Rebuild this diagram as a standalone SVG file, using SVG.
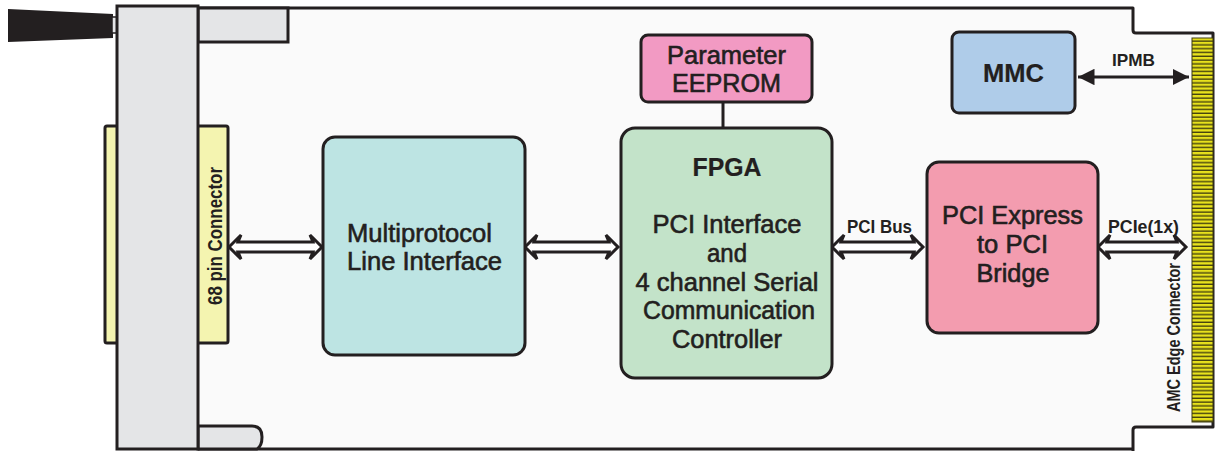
<svg xmlns="http://www.w3.org/2000/svg" width="1215" height="451" viewBox="0 0 1215 451">
<style>
.ln{stroke:#231f20;stroke-width:3;stroke-linejoin:round;fill:none}
.box{stroke:#231f20;stroke-width:3}
.t{font-family:"Liberation Sans",Arial,sans-serif;font-size:25px;fill:#231f20;stroke:#231f20;stroke-width:0.6;text-anchor:middle}
.b{font-weight:bold;stroke-width:0.2}
.lab{font-family:"Liberation Sans",Arial,sans-serif;font-size:16px;font-weight:bold;fill:#231f20;text-anchor:middle}
.harrow{fill:#ffffff;stroke:#231f20;stroke-width:3;stroke-linejoin:miter}
</style>
<defs>
<pattern id="pins" x="0" y="38" width="21" height="3.8" patternUnits="userSpaceOnUse">
<rect width="21" height="3.8" fill="#e8e21c"/>
<rect y="2.4" width="21" height="1.4" fill="#45420f"/>
</pattern>
<marker id="ah" viewBox="0 0 10 10" refX="10" refY="5" markerWidth="5.5" markerHeight="5.5" orient="auto-start-reverse">
<path d="M0,0 L10,5 L0,10 Z" fill="#231f20"/>
</marker>
</defs>
<rect width="1215" height="451" fill="#ffffff"/>

<g id="board">
<path d="M198,8 H1133 V33 H1213 V427 H1133 V449 H198 Z" fill="#fafafa"/>
<path d="M198,8 H1133 V30 Q1133,33 1136,33 H1213 V427 H1136 Q1133,427 1133,430 V451 M1133,449 H198" class="ln"/>
</g>

<g id="handle">
<polygon points="8,9 113,14 113,38 8,42" fill="#231f20"/>
<rect x="112" y="17" width="6" height="16" fill="#e4e5e7" stroke="#231f20" stroke-width="1.5"/>
</g>

<g id="connector68">
<rect x="105" y="126" width="123" height="217" rx="2" fill="#f4f4b0" class="box"/>
</g>

<g id="panel">
<rect x="198" y="8" width="90" height="34" fill="#e4e5e7" class="box"/>
<path d="M198,426 H252 Q262,426 262,437 Q262,446 257,449 H198 Z" fill="#e4e5e7" class="box"/>
<rect x="117" y="6" width="81" height="443" fill="#e4e5e7" class="box"/>
</g>
<text class="lab" transform="translate(222,236) rotate(-90)" textLength="138" lengthAdjust="spacingAndGlyphs" style="font-size:20px">68 pin Connector</text>

<g id="edge-connector">
<rect x="1192" y="38" width="21" height="384" fill="url(#pins)" stroke="#3c3a10" stroke-width="1"/>
<text class="lab" transform="translate(1180,337.5) rotate(-90)" textLength="149" lengthAdjust="spacingAndGlyphs" style="font-size:18px">AMC Edge Connector</text>
</g>

<g id="connectors">
<path class="harrow" d="M229,247 L241,235 L238,242 L313,242 L310,235 L322,247 L310,259 L313,252 L238,252 L241,259 Z"/>
<path class="harrow" d="M525,247 L537,235 L534,242 L609,242 L606,235 L618,247 L606,259 L609,252 L534,252 L537,259 Z"/>
<path class="harrow" d="M832,247 L844,235 L841,242 L914,242 L911,235 L923,247 L911,259 L914,252 L841,252 L844,259 Z"/>
<path class="harrow" d="M1098,247 L1110,235 L1107,242 L1177,242 L1174,235 L1186,247 L1174,259 L1177,252 L1107,252 L1110,259 Z"/>
<line x1="1078" y1="77" x2="1189" y2="77" stroke="#231f20" stroke-width="3" marker-start="url(#ah)" marker-end="url(#ah)"/>
<line x1="723" y1="102" x2="723" y2="128" stroke="#231f20" stroke-width="3"/>
<text class="lab" x="879.5" y="233" textLength="65" lengthAdjust="spacingAndGlyphs" style="font-size:18px">PCI Bus</text>
<text class="lab" x="1143.5" y="233" textLength="71" lengthAdjust="spacingAndGlyphs" style="font-size:18px">PCIe(1x)</text>
<text class="lab" x="1133.5" y="66" textLength="43" lengthAdjust="spacingAndGlyphs" style="font-size:17px">IPMB</text>
</g>

<g id="multiprotocol">
<rect x="323" y="137" width="202" height="218" rx="12" fill="#bde4e3" class="box"/>
<text class="t" x="347" y="242" style="text-anchor:start" textLength="145" lengthAdjust="spacingAndGlyphs">Multiprotocol</text>
<text class="t" x="347" y="270" style="text-anchor:start" textLength="155" lengthAdjust="spacingAndGlyphs">Line Interface</text>
</g>

<g id="eeprom">
<rect x="641" y="35" width="171" height="67" rx="7" fill="#f29ac3" class="box"/>
<text class="t" x="726.5" y="64" textLength="119" lengthAdjust="spacingAndGlyphs">Parameter</text>
<text class="t" x="726.5" y="92" textLength="109" lengthAdjust="spacingAndGlyphs">EEPROM</text>
</g>

<g id="fpga">
<rect x="621" y="128" width="211" height="250" rx="14" fill="#c3e3c9" class="box"/>
<text class="t b" x="727" y="176" textLength="69" lengthAdjust="spacingAndGlyphs">FPGA</text>
<text class="t" x="727" y="233" textLength="149" lengthAdjust="spacingAndGlyphs">PCI Interface</text>
<text class="t" x="727" y="262" textLength="40" lengthAdjust="spacingAndGlyphs">and</text>
<text class="t" x="727" y="291" textLength="183" lengthAdjust="spacingAndGlyphs">4 channel Serial</text>
<text class="t" x="729" y="319" textLength="172" lengthAdjust="spacingAndGlyphs">Communication</text>
<text class="t" x="727" y="348" textLength="110" lengthAdjust="spacingAndGlyphs">Controller</text>
</g>

<g id="bridge">
<rect x="927" y="162" width="171" height="171" rx="12" fill="#f39caf" class="box"/>
<text class="t" x="1012.5" y="224" textLength="141" lengthAdjust="spacingAndGlyphs">PCI Express</text>
<text class="t" x="1012.5" y="253" textLength="71" lengthAdjust="spacingAndGlyphs">to PCI</text>
<text class="t" x="1013" y="282" textLength="73" lengthAdjust="spacingAndGlyphs">Bridge</text>
</g>

<g id="mmc">
<rect x="952" y="32" width="123" height="81" rx="7" fill="#afcce9" class="box"/>
<text class="t b" x="1013.5" y="82" textLength="61" lengthAdjust="spacingAndGlyphs">MMC</text>
</g>
</svg>
